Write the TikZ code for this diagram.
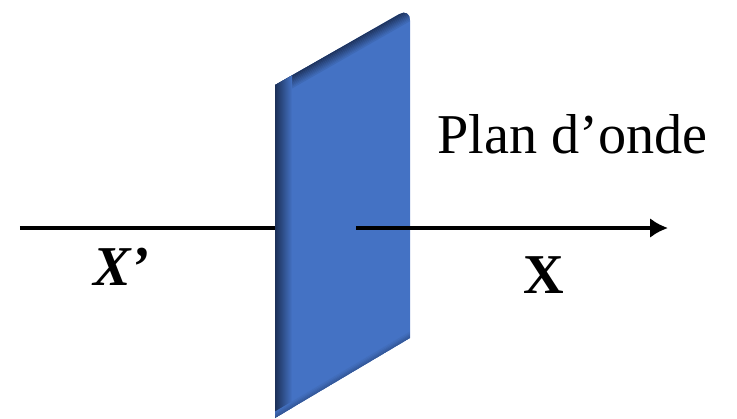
\documentclass[tikz,border=0pt]{standalone}
\usepackage{fontspec}
\setmainfont{Liberation Serif}
\usepackage{xcolor}
\usetikzlibrary{calc, arrows.meta, positioning}

\definecolor{planblue}{RGB}{68,114,196}
\definecolor{planedge}{RGB}{28,48,88}

\tikzset{
    axisline/.style={line width=2.8pt, black},
    lbl/.style={inner sep=0pt, anchor=base west, font=\fontsize{32}{38}\selectfont}
}

\begin{document}
\begin{tikzpicture}
    \useasboundingbox (0,0) rectangle (14.74,8.36);

    % 1. Các điểm của mặt phẳng sóng
    \coordinate (TL) at (5.50,6.66);
    \coordinate (TR) at (8.20,8.20);
    \coordinate (BR) at (8.20,1.60);
    \coordinate (BL) at (5.50,0);

    % 2. Trục phía sau mặt phẳng
    \coordinate (xl) at (0.40,3.80);
    \coordinate (pl) at (5.60,3.80);
    \draw[axisline] (xl) -- (pl);

    % 3. Mặt phẳng sóng
    \fill[planblue] (BL) -- (TL) [rounded corners=7pt] -- (TR) [sharp corners] -- (BR) -- cycle;
    \begin{scope}
        \clip (BL) -- (TL) [rounded corners=7pt] -- (TR) [sharp corners] -- (BR) -- cycle;
        % cạnh trên: dải màu từ tối đến sáng
        \foreach \i in {0,...,9}
            \fill[planedge!\the\numexpr 95-\i*9\relax!planblue]
                ($(TL)+(0,-\i*0.026)$) -- ($(TR)+(0,-\i*0.026)$)
                -- ($(TR)+(0,-\i*0.026-0.03)$) -- ($(TL)+(0,-\i*0.026-0.03)$) -- cycle;
        % cạnh trái tối
        \shade[left color=planedge, right color=planblue]
            (5.50,0) rectangle (5.84,8.36);
        % bóng nhẹ cạnh dưới
        \foreach \i in {0,...,4}
            \fill[planedge!\the\numexpr 40-\i*8\relax!planblue]
                ($(BL)+(0,\i*0.025)$) -- ($(BR)+(0,\i*0.025)$)
                -- ($(BR)+(0,\i*0.025+0.03)$) -- ($(BL)+(0,\i*0.025+0.03)$) -- cycle;
    \end{scope}

    % 4. Trục phía trước
    \coordinate (pm) at (7.12,3.80);
    \coordinate (xr) at (13.36,3.80);
    \draw[axisline, -{Latex[length=3.6mm, width=4.0mm]}] (pm) -- (xr);

    % 5. Nhãn
    \node[lbl] (xprime) at (1.86,2.66) {\textbf{\textit{X’}}};
    \node[lbl] (xlab) at (10.46,2.50) {\textbf{X}};
    \node[lbl] (plan) at (8.74,5.30) {Plan d’onde};
\end{tikzpicture}
\end{document}
